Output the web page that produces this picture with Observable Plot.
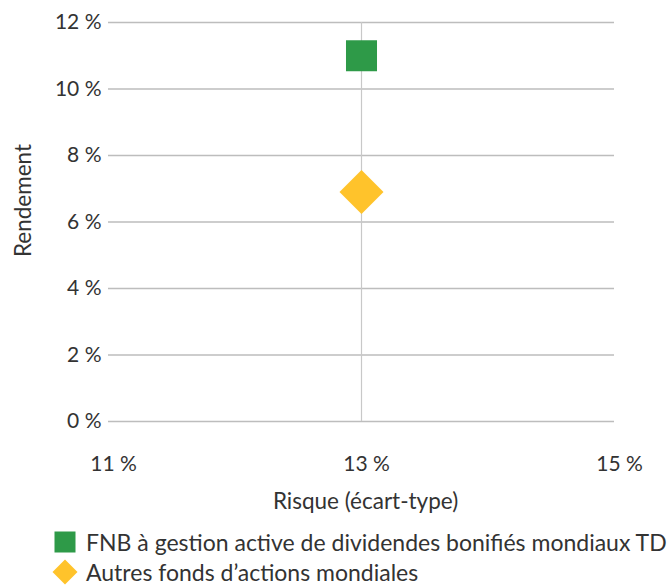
<!DOCTYPE html>
<html><head><meta charset="utf-8">
<script src="https://cdn.jsdelivr.net/npm/d3@7"></script>
<script src="https://cdn.jsdelivr.net/npm/@observablehq/plot@0.6"></script>
<style>
body{margin:0;background:#fff;font-family:Lato, sans-serif;color:#333;overflow:hidden;}
#chart svg{display:block;}
.legend{margin-top:7px;}
.row{height:30px;display:flex;align-items:center;font-size:23px;line-height:25px;color:#333;white-space:nowrap;}
.row svg{margin-left:52px;margin-right:8px;flex:none;}
</style></head><body><div id="chart"></div><div class="legend" id="legend"></div>
<script>
const series = ["FNB à gestion active de dividendes bonifiés mondiaux TD", "Autres fonds d’actions mondiales"];
const risk = [13.0, 13.0];
const returns = [11.0, 6.9];
const colors = ["#2e9a48", "#ffc32b"];
const yTicks = [0, 2, 4, 6, 8, 10, 12];
const xTicks = [11, 13, 15];
const xLabel = "Risque (écart-type)";
const yLabel = "Rendement";

const data = series.map((s, i) => ({name: s, risk: risk[i], ret: returns[i], color: colors[i]}));
const pct = d => d + "\u00a0%";
const textColor = "#333";

const plot = Plot.plot({
  width: 671, height: 520,
  marginLeft: 108, marginRight: 57, marginTop: 22, marginBottom: 99,
  style: {fontFamily: "Lato, sans-serif", fontSize: "21px", color: textColor, background: "#fff"},
  x: {domain: [11, 15], label: null},
  y: {domain: [0, 12], label: null},
  marks: [
    Plot.gridY(yTicks, {stroke: "#bdbdbd", strokeOpacity: 1, strokeWidth: 1.3}),
    Plot.ruleX([xTicks[1]], {stroke: "#c8c8c8", strokeWidth: 1.2}),
    Plot.axisY(yTicks, {tickSize: 0, tickPadding: 7, tickFormat: pct, fontSize: 21, fill: textColor, label: null}),
    Plot.axisX(xTicks, {tickSize: 0, tickPadding: 35, dx: 5, tickFormat: pct, fontSize: 21, fill: textColor, label: null}),
    Plot.dot([data[0]], {x: "risk", y: "ret", symbol: "square", r: 17.5, fill: "color", stroke: null}),
    Plot.dot([data[1]], {x: "risk", y: "ret", symbol: "diamond2", r: 19.8, fill: "color", stroke: null}),
    Plot.text([xLabel], {frameAnchor: "bottom", lineAnchor: "middle", textAnchor: "middle", dy: 80, dx: 4, fontSize: 22.5, fill: textColor}),
    Plot.text([yLabel], {frameAnchor: "left", lineAnchor: "middle", textAnchor: "middle", rotate: -90, dx: -85, dy: -21.5, fontSize: 22.5, fill: textColor})
  ]
});
document.getElementById("chart").appendChild(plot);

const legend = d3.select("#legend");
data.forEach((d, i) => {
  const row = legend.append("div").attr("class", "row");
  const svg = row.append("svg").attr("width", 26).attr("height", 26);
  if (i === 0) {
    svg.append("rect").attr("x", 2.5).attr("y", 2.5).attr("width", 21).attr("height", 21).attr("fill", d.color);
  } else {
    svg.append("path").attr("d", "M13,0.5L25.5,13L13,25.5L0.5,13Z").attr("fill", d.color);
  }
  row.append("span").text(d.name);
});
</script></body></html>
